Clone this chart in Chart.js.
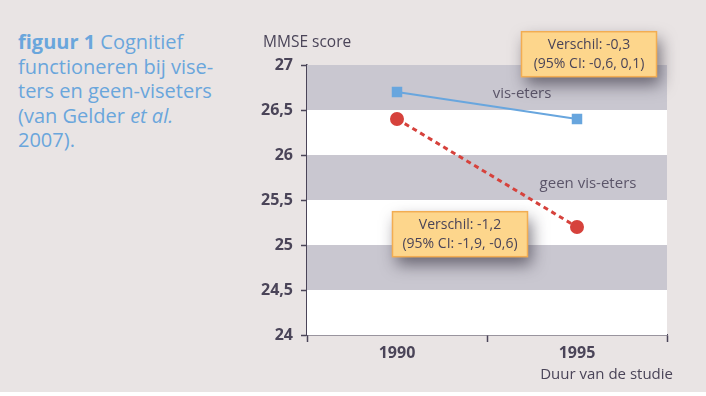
<!DOCTYPE html>
<html>
<head>
<meta charset="utf-8">
<script src="https://cdn.jsdelivr.net/npm/chart.js@4/dist/chart.umd.min.js"></script>
<style>
  html, body { margin: 0; padding: 0; }
  body { width: 706px; height: 396px; background: #ffffff; position: relative; overflow: hidden; }
  #bg { position: absolute; left: 0; top: 0; width: 706px; height: 392px; background: #e9e4e4; }
  #caption {
    position: absolute; left: 18px; top: 30px; width: 230px;
    font-family: "Open Sans", sans-serif; font-size: 20px; line-height: 24.5px;
    color: #6aa6dc; font-weight: 400;
  }
  #caption b { font-weight: 700; }
  #wrap { position: absolute; left: 0; top: 0; width: 706px; height: 396px; }
</style>
</head>
<body>
<div id="bg"></div>
<div id="caption"><b>figuur 1</b> Cognitief<br>functioneren bij vise-<br>ters en geen-viseters<br>(van Gelder <i>et al.</i><br>2007).</div>
<div id="wrap"><canvas id="chart" width="706" height="396"></canvas></div>
<script>
const years = ["1990", "1995"];
const visEters = [26.7, 26.4];
const geenVisEters = [26.4, 25.2];
const yTicks = [24, 24.5, 25, 25.5, 26, 26.5, 27];
const grayBands = [[26.5, 27], [25.5, 26], [24.5, 25]];

const ink = "#4a4458";
const comma = v => String(v).replace(".", ",");

// grey bands behind the lines
const bandsPlugin = {
  id: "bands",
  beforeDatasetsDraw(chart) {
    const { ctx, chartArea: a, scales: { y } } = chart;
    ctx.save();
    ctx.fillStyle = "#ffffff";
    ctx.fillRect(a.left, a.top, a.right - a.left, a.bottom - a.top);
    ctx.fillStyle = "#c9c7d0";
    grayBands.forEach(b => {
      const t = y.getPixelForValue(b[1]), bt = y.getPixelForValue(b[0]);
      ctx.fillRect(a.left, t, a.right - a.left, bt - t);
    });
    ctx.restore();
  }
};

function box(ctx, cx, cy, w, h, lines) {
  ctx.save();
  ctx.shadowColor = "rgba(40,35,50,0.6)";
  ctx.shadowBlur = 16;
  ctx.shadowOffsetX = 4;
  ctx.shadowOffsetY = 8;
  ctx.fillStyle = "#fdd68c";
  ctx.fillRect(cx - w / 2, cy - h / 2, w, h);
  ctx.restore();
  ctx.save();
  ctx.strokeStyle = "#f2ad52";
  ctx.lineWidth = 1.5;
  ctx.strokeRect(cx - w / 2, cy - h / 2, w, h);
  ctx.fillStyle = ink;
  ctx.font = "14px 'Open Sans'";
  ctx.textAlign = "center";
  ctx.textBaseline = "middle";
  ctx.fillText(lines[0], cx, cy - 9);
  ctx.fillText(lines[1], cx, cy + 10);
  ctx.restore();
}

const notesPlugin = {
  id: "notes",
  afterDraw(chart) {
    const { ctx, chartArea: a, scales: { x, y } } = chart;
    ctx.save();
    ctx.fillStyle = ink;
    ctx.font = "15.5px 'Open Sans'";
    ctx.textBaseline = "middle";
    ctx.textAlign = "left";
    ctx.fillText("MMSE score", 263, 43);
    ctx.textAlign = "right";
    ctx.font = "15px 'Open Sans'";
    ctx.fillText("Duur van de studie", a.right + 6, 375);
    ctx.fillStyle = "#5b5569";
    ctx.textAlign = "center";
    ctx.fillText("vis-eters", (x.getPixelForValue(0) + x.getPixelForValue(1)) / 2 + 35, y.getPixelForValue(26.68));
    ctx.fillText("geen vis-eters", x.getPixelForValue(1) + 11, y.getPixelForValue(25.68));
    ctx.restore();
    box(ctx, x.getPixelForValue(1) + 12, y.getPixelForValue(27.12), 135, 45,
      ["Verschil: -0,3", "(95% CI: -0,6, 0,1)"]);
    box(ctx, (x.getPixelForValue(0) + x.getPixelForValue(1)) / 2 - 27, y.getPixelForValue(25.12), 135, 45,
      ["Verschil: -1,2", "(95% CI: -1,9, -0,6)"]);
  }
};

new Chart(document.getElementById("chart"), {
  type: "line",
  data: {
    labels: years,
    datasets: [
      {
        label: "vis-eters",
        data: visEters,
        borderColor: "#68a6de",
        backgroundColor: "#68a6de",
        borderWidth: 2,
        pointStyle: "rect",
        pointRadius: 6,
        pointHoverRadius: 6
      },
      {
        label: "geen vis-eters",
        data: geenVisEters,
        borderColor: "#d6423c",
        backgroundColor: "#d6423c",
        borderWidth: 3,
        borderDash: [5, 4],
        pointStyle: "circle",
        pointRadius: 5.5,
        pointHoverRadius: 5.5
      }
    ]
  },
  options: {
    responsive: false,
    animation: false,
    layout: { padding: { left: 240, right: 39, top: 65, bottom: 0 } },
    plugins: { legend: { display: false }, tooltip: { enabled: false } },
    scales: {
      x: {
        offset: true,
        grid: { offset: true, drawOnChartArea: false, drawTicks: true, tickLength: 7, color: ink, tickWidth: 1.5 },
        border: { color: ink, width: 1.5 },
        ticks: { color: ink, font: { family: "Open Sans", size: 16, weight: "bold" }, padding: 2 },
        afterFit(s) { s.height = 61; }
      },
      y: {
        min: 24,
        max: 27,
        afterBuildTicks(s) { s.ticks = yTicks.map(v => ({ value: v })); },
        grid: { drawOnChartArea: false, drawTicks: true, tickLength: 6, color: ink, tickWidth: 1.5 },
        border: { color: ink, width: 1.5 },
        ticks: { color: ink, font: { family: "Open Sans", size: 16, weight: "bold" }, padding: 8, callback: v => comma(v) },
        afterFit(s) { s.width = 67; }
      }
    }
  },
  plugins: [bandsPlugin, notesPlugin]
});
</script>
</body>
</html>
